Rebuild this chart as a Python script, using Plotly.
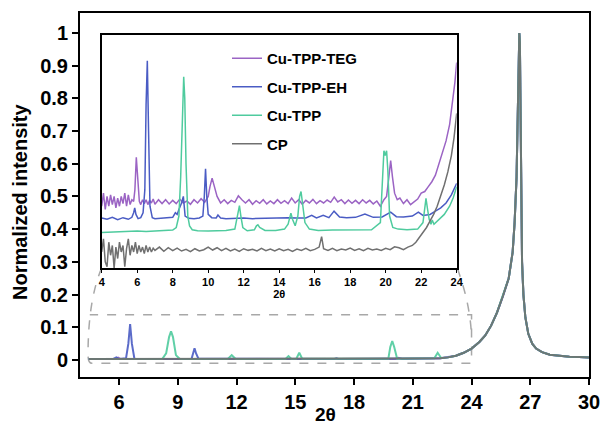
import plotly.graph_objects as go

# ---------------- data ----------------
series_names = ["Cu-TPP-TEG", "Cu-TPP-EH", "Cu-TPP", "CP"]
series_colors = ["#9b64c4", "#4a5cc4", "#4fcb9e", "#707070"]

# main chart: low-angle parts (2θ, normalized intensity)
main_teg_x = [4.45, 5.5, 5.85, 5.95, 6.05, 7.0, 10.0, 10.2, 10.4, 14.0, 20.1, 20.28, 20.45, 22.4]
main_teg_y = [0.003, 0.003, 0.004, 0.007, 0.004, 0.003, 0.003, 0.005, 0.003, 0.003, 0.003, 0.007, 0.003, 0.005]
main_eh_x = [4.45, 5.7, 5.86, 6.0, 6.35, 6.47, 6.56, 6.65, 6.78, 8.0, 9.7, 9.78, 9.85, 9.93, 10.05, 17.0, 17.1, 17.2, 22.4]
main_eh_y = [0.003, 0.003, 0.008, 0.003, 0.005, 0.05, 0.11, 0.05, 0.004, 0.003, 0.004, 0.02, 0.036, 0.02, 0.004, 0.003, 0.005, 0.003, 0.005]
main_tpp_x = [4.45, 8.2, 8.4, 8.55, 8.65, 8.75, 8.9, 9.1, 11.55, 11.75, 11.95, 14.5, 14.65, 14.8, 15.05, 15.2, 15.35,
              19.75, 19.85, 19.95, 20.05, 20.2, 22.1, 22.27, 22.45]
main_tpp_y = [0.003, 0.003, 0.02, 0.07, 0.088, 0.07, 0.015, 0.003, 0.003, 0.015, 0.003, 0.003, 0.012, 0.003, 0.004, 0.022, 0.004,
              0.004, 0.04, 0.058, 0.04, 0.004, 0.005, 0.022, 0.006]
main_cp_x = [4.45, 22.4]
main_cp_y = [0.003, 0.005]
# shared high-angle part containing the main reflection
main_common_x = [22.8, 23.2, 23.6, 24.0, 24.4, 24.7, 25.0, 25.3, 25.6, 25.9, 26.1, 26.2, 26.3, 26.36, 26.41, 26.44,
                 26.47, 26.5, 26.53, 26.58, 26.65, 26.75, 26.9, 27.1, 27.3, 27.6, 28.0, 28.5, 29.0, 29.5, 30.0]
main_common_y = [0.008, 0.013, 0.022, 0.035, 0.055, 0.075, 0.105, 0.145, 0.195, 0.25, 0.33, 0.42, 0.56, 0.75, 0.95, 1.0,
                 0.97, 0.7, 0.45, 0.3, 0.2, 0.13, 0.08, 0.05, 0.035, 0.024, 0.016, 0.012, 0.01, 0.009, 0.008]

# inset (offset, magnified traces)
teg_x = [4.0, 4.1, 4.2, 4.3, 4.4, 4.5, 4.6, 4.7, 4.8, 4.9, 5.0, 5.1, 5.2, 5.3, 5.4, 5.5, 5.6, 5.7, 5.8, 5.87, 5.95, 6.03,
         6.12, 6.2, 6.3, 6.4, 6.5, 6.6, 6.7, 6.8, 6.9, 7.0, 7.2, 7.4, 7.6, 7.8, 8.0, 8.2, 8.4, 8.6, 8.8, 9.0, 9.2, 9.4,
         9.6, 9.8, 10.0, 10.1, 10.22, 10.35, 10.5, 10.7, 10.9, 11.1, 11.3, 11.5, 11.7, 11.9, 12.1, 12.3, 12.5, 12.7,
         12.9, 13.1, 13.3, 13.5, 13.7, 13.9, 14.1, 14.3, 14.5, 14.7, 14.9, 15.1, 15.3, 15.5, 15.7, 15.9, 16.1, 16.3,
         16.5, 16.7, 16.9, 17.1, 17.3, 17.5, 17.7, 17.9, 18.1, 18.3, 18.5, 18.7, 18.9, 19.1, 19.3, 19.5, 19.7, 19.9,
         20.05, 20.18, 20.28, 20.38, 20.5, 20.65, 20.8, 21.0, 21.2, 21.4, 21.6, 21.8, 22.0, 22.2, 22.4, 22.6, 22.8,
         23.0, 23.2, 23.4, 23.6, 23.8, 23.9, 24.0]
teg_y = [0.47, 0.51, 0.46, 0.50, 0.47, 0.505, 0.475, 0.50, 0.465, 0.495, 0.47, 0.50, 0.478, 0.51, 0.47, 0.505, 0.475,
         0.49, 0.485, 0.52, 0.62, 0.55, 0.485, 0.475, 0.49, 0.478, 0.49, 0.475, 0.488, 0.48, 0.492, 0.476, 0.49, 0.478,
         0.49, 0.477, 0.488, 0.478, 0.492, 0.48, 0.486, 0.476, 0.49, 0.48, 0.493, 0.482, 0.50, 0.53, 0.556, 0.53, 0.50,
         0.48, 0.49, 0.478, 0.488, 0.482, 0.502, 0.49, 0.48, 0.49, 0.476, 0.487, 0.479, 0.49, 0.477, 0.486, 0.478, 0.49,
         0.479, 0.487, 0.478, 0.495, 0.48, 0.49, 0.476, 0.488, 0.48, 0.491, 0.478, 0.487, 0.48, 0.489, 0.482, 0.498,
         0.483, 0.49, 0.478, 0.489, 0.479, 0.488, 0.478, 0.49, 0.48, 0.488, 0.477, 0.486, 0.47, 0.49, 0.50, 0.56, 0.61,
         0.56, 0.51, 0.49, 0.495, 0.478, 0.49, 0.475, 0.485, 0.492, 0.51, 0.515, 0.53, 0.545, 0.565, 0.60, 0.635, 0.67,
         0.72, 0.80, 0.85, 0.91]

eh_x = [4.0, 4.3, 4.6, 4.9, 5.2, 5.5, 5.7, 5.8, 5.86, 5.93, 6.05, 6.2, 6.33, 6.43, 6.5, 6.57, 6.64, 6.72, 6.85, 7.0,
        7.5, 8.0, 8.15, 8.25, 8.35, 8.5, 8.6, 8.7, 8.9, 9.2, 9.5, 9.7, 9.78, 9.85, 9.92, 10.0, 10.2, 10.45, 10.55,
        10.7, 11.0, 11.5, 12.0, 12.5, 13.0, 13.5, 14.0, 14.5, 15.0, 15.5, 15.83, 16.1, 16.48, 16.8, 17.09, 17.4, 17.8,
        18.3, 18.83, 19.3, 19.8, 20.28, 20.6, 21.0, 21.5, 21.84, 22.1, 22.5, 22.8, 23.1, 23.4, 23.7, 24.0]
eh_y = [0.434, 0.43, 0.436, 0.429, 0.435, 0.43, 0.436, 0.45, 0.465, 0.445, 0.432, 0.435, 0.45, 0.52, 0.78, 0.915, 0.70,
        0.47, 0.435, 0.432, 0.434, 0.436, 0.45, 0.445, 0.46, 0.48, 0.50, 0.44, 0.433, 0.432, 0.434, 0.44, 0.50, 0.585,
        0.50, 0.445, 0.435, 0.434, 0.443, 0.434, 0.432, 0.433, 0.434, 0.432, 0.433, 0.434, 0.433, 0.435, 0.434, 0.434,
        0.442, 0.434, 0.442, 0.435, 0.455, 0.437, 0.435, 0.436, 0.446, 0.436, 0.437, 0.452, 0.438, 0.437, 0.44, 0.452,
        0.442, 0.445, 0.455, 0.465, 0.48, 0.505, 0.54]

tpp_x = [4.0, 4.5, 5.0, 5.5, 6.0, 6.5, 7.0, 7.5, 8.0, 8.2, 8.35, 8.45, 8.55, 8.62, 8.68, 8.75, 8.85, 8.95, 9.1, 9.4,
         10.0, 10.5, 11.0, 11.5, 11.62, 11.7, 11.76, 11.84, 11.95, 12.2, 12.6, 12.72, 12.8, 12.9, 13.2, 13.8, 14.3,
         14.5, 14.6, 14.66, 14.75, 14.9, 15.05, 15.15, 15.23, 15.32, 15.45, 15.7, 16.2, 17.0, 17.8, 18.5, 19.2, 19.7,
         19.82, 19.9, 19.97, 20.05, 20.12, 20.22, 20.4, 20.7, 21.2, 21.8, 22.1, 22.2, 22.27, 22.36, 22.45, 22.55,
         22.62, 22.72, 23.0, 23.3, 23.6, 23.8, 24.0]
tpp_y = [0.39, 0.391, 0.393, 0.392, 0.394, 0.393, 0.395, 0.395, 0.397, 0.405, 0.44, 0.56, 0.76, 0.866, 0.80, 0.60,
         0.44, 0.41, 0.398, 0.395, 0.394, 0.394, 0.396, 0.40, 0.43, 0.46, 0.472, 0.44, 0.405, 0.395, 0.398, 0.41,
         0.413, 0.405, 0.396, 0.396, 0.40, 0.415, 0.44, 0.449, 0.43, 0.41, 0.44, 0.50, 0.515, 0.48, 0.42, 0.40, 0.396,
         0.397, 0.397, 0.398, 0.398, 0.42, 0.55, 0.64, 0.625, 0.64, 0.58, 0.44, 0.405, 0.40, 0.398, 0.40, 0.42, 0.46,
         0.494, 0.46, 0.43, 0.415, 0.428, 0.415, 0.43, 0.445, 0.47, 0.495, 0.53]

cp_x = [4.0, 4.1, 4.2, 4.3, 4.4, 4.5, 4.6, 4.7, 4.8, 4.9, 5.0, 5.1, 5.2, 5.3, 5.4, 5.5, 5.6, 5.7, 5.8, 5.9, 6.0,
        6.1, 6.2, 6.3, 6.4, 6.5, 6.6, 6.7, 6.8, 6.9, 7.0,
        7.25, 7.5, 7.75, 8.0, 8.25, 8.5, 8.75, 9.0, 9.25, 9.5, 9.75, 10.0, 10.25, 10.5, 10.75, 11.0, 11.25, 11.5,
        11.75, 12.0, 12.25, 12.5, 12.75, 13.0, 13.25, 13.5, 13.75, 14.0, 14.25, 14.5, 14.75, 15.0, 15.25, 15.5,
        15.75, 16.0, 16.25, 16.39, 16.5, 16.75, 17.0, 17.25, 17.5, 17.75, 18.0, 18.25, 18.5, 18.75, 19.0, 19.25,
        19.5, 19.75, 20.0, 20.25, 20.5, 20.75, 21.0, 21.25, 21.5,
        21.7, 21.9, 22.1, 22.3, 22.5, 22.7, 22.9, 23.1, 23.3, 23.5, 23.7, 23.85, 24.0]
cp_y = [0.33, 0.37, 0.30, 0.285, 0.36, 0.32, 0.35, 0.28, 0.345, 0.31, 0.36, 0.33, 0.35, 0.285, 0.34, 0.37, 0.32,
        0.35, 0.33, 0.36, 0.325, 0.35, 0.33, 0.345, 0.325, 0.35, 0.33, 0.345, 0.33, 0.342, 0.335,
        0.345, 0.332, 0.343, 0.334, 0.342, 0.333, 0.338, 0.331, 0.34, 0.333, 0.337, 0.345, 0.336, 0.343, 0.334,
        0.341, 0.333, 0.339, 0.332, 0.34, 0.335, 0.338, 0.333, 0.341, 0.334, 0.339, 0.333, 0.34, 0.334, 0.338,
        0.332, 0.339, 0.335, 0.341, 0.334, 0.338, 0.345, 0.377, 0.34, 0.335, 0.341, 0.334, 0.339, 0.336, 0.342,
        0.335, 0.34, 0.334, 0.341, 0.336, 0.339, 0.335, 0.341, 0.337, 0.346, 0.343, 0.337, 0.345, 0.35,
        0.36, 0.375, 0.39, 0.405, 0.425, 0.445, 0.47, 0.50, 0.535, 0.575, 0.625, 0.68, 0.754]

x_ticks_main = [6, 9, 12, 15, 18, 21, 24, 27, 30]
y_ticks_main = [0, 0.1, 0.2, 0.3, 0.4, 0.5, 0.6, 0.7, 0.8, 0.9, 1]
y_tick_text = ["0", "0.1", "0.2", "0.3", "0.4", "0.5", "0.6", "0.7", "0.8", "0.9", "1"]
x_ticks_inset = [4, 6, 8, 10, 12, 14, 16, 18, 20, 22, 24]
x_title = "2θ"
y_title = "Normalized intensity"

# ---------------- figure ----------------
FONT = "Liberation Sans, Arial, sans-serif"
fig = go.Figure()

main_sets = [(main_teg_x, main_teg_y), (main_eh_x, main_eh_y), (main_tpp_x, main_tpp_y), (main_cp_x, main_cp_y)]
for (mx, my), name, col in zip(main_sets, series_names, series_colors):
    fig.add_trace(go.Scatter(x=mx + main_common_x, y=my + main_common_y, mode="lines",
                             line=dict(color=col, width=2), showlegend=False, hoverinfo="skip",
                             opacity=0.9, xaxis="x", yaxis="y"))

inset_sets = [(teg_x, teg_y), (eh_x, eh_y), (tpp_x, tpp_y), (cp_x, cp_y)]
for (ix, iy), name, col in zip(inset_sets, series_names, series_colors):
    fig.add_trace(go.Scatter(x=ix, y=iy, mode="lines", name=name, legendgroup=name,
                             line=dict(color=col, width=1.5), xaxis="x2", yaxis="y2"))

dash_line = dict(color="#a8a8a8", width=1.5, dash="dash")
shapes = [
    # zoom region (top, right, bottom edges) and left connector
    dict(type="path", xref="x", yref="y", layer="below", line=dash_line,
         path="M 5.105,0.281 Q 4.41,0.183 4.41,0.015 Q 4.41,-0.010 4.61,-0.010 L 24.0,-0.010 L 24.0,0.138 L 4.5,0.138"),
    # right connector
    dict(type="path", xref="x", yref="y", layer="below", line=dash_line,
         path="M 23.27,0.281 Q 23.87,0.183 23.98,0.092"),
]

L, R, T, B = 80, 14, 13, 50
W, H = 603, 427
pw, ph = W - L - R, H - T - B
ix0, ix1, iy0, iy1 = 101.7, 456.7, 35, 268

annotations = [
    dict(text=y_title, textangle=-90, xref="paper", yref="paper", x=(20 - L) / pw, y=(H - B - 202) / ph,
         xanchor="center", yanchor="middle", showarrow=False,
         font=dict(size=20, weight="bold", family=FONT, color="black")),
    dict(text=x_title, xref="paper", yref="paper", x=(325 - L) / pw, y=(H - B - 414) / ph,
         xanchor="center", yanchor="middle", showarrow=False,
         font=dict(size=19, weight="bold", family=FONT, color="black")),
]

fig.update_layout(
    width=W, height=H,
    margin=dict(l=L, r=R, t=T, b=B, autoexpand=False),
    paper_bgcolor="white", plot_bgcolor="white",
    font=dict(family=FONT, color="black"),
    shapes=shapes,
    annotations=annotations,
    xaxis=dict(range=[4, 30], tickvals=x_ticks_main, showgrid=False, zeroline=False, automargin=False,
               showline=True, linecolor="black", linewidth=2, mirror=True,
               ticks="outside", ticklen=6, tickwidth=2, tickcolor="black",
               tickfont=dict(size=20, weight="bold", family=FONT)),
    yaxis=dict(range=[-0.052, 1.061], tickvals=y_ticks_main, ticktext=y_tick_text, showgrid=False, zeroline=False,
               automargin=False, showline=True, linecolor="black", linewidth=2, mirror=True,
               ticks="outside", ticklen=6, tickwidth=2, tickcolor="black",
               tickfont=dict(size=20, weight="bold", family=FONT)),
    xaxis2=dict(domain=[(ix0 - L) / pw, (ix1 - L) / pw], anchor="y2", range=[4, 24], tickvals=x_ticks_inset,
                automargin=False, showgrid=False, zeroline=False, showline=True, linecolor="black", linewidth=1.5,
                mirror=True, ticks="outside", ticklen=3, tickwidth=1, tickcolor="black",
                tickfont=dict(size=11, weight="bold", family=FONT),
                title=dict(text=x_title, font=dict(size=11, weight="bold", family=FONT), standoff=0)),
    yaxis2=dict(domain=[(H - B - iy1) / ph, (H - B - iy0) / ph], anchor="x2", range=[0.281, 0.994],
                automargin=False, showgrid=False, zeroline=False, showline=True, linecolor="black", linewidth=1.5,
                mirror=True, showticklabels=False, ticks=""),
    legend=dict(x=(227 - L) / pw, y=(H - B - 42) / ph, xanchor="left", yanchor="top",
                bgcolor="rgba(0,0,0,0)", borderwidth=0, itemwidth=30, tracegroupgap=6,
                font=dict(size=15, weight="bold", family=FONT)),
)

fig.write_html("out.html", config={"displayModeBar": False},
               post_script="document.body.style.margin='0';document.body.style.padding='0';")
